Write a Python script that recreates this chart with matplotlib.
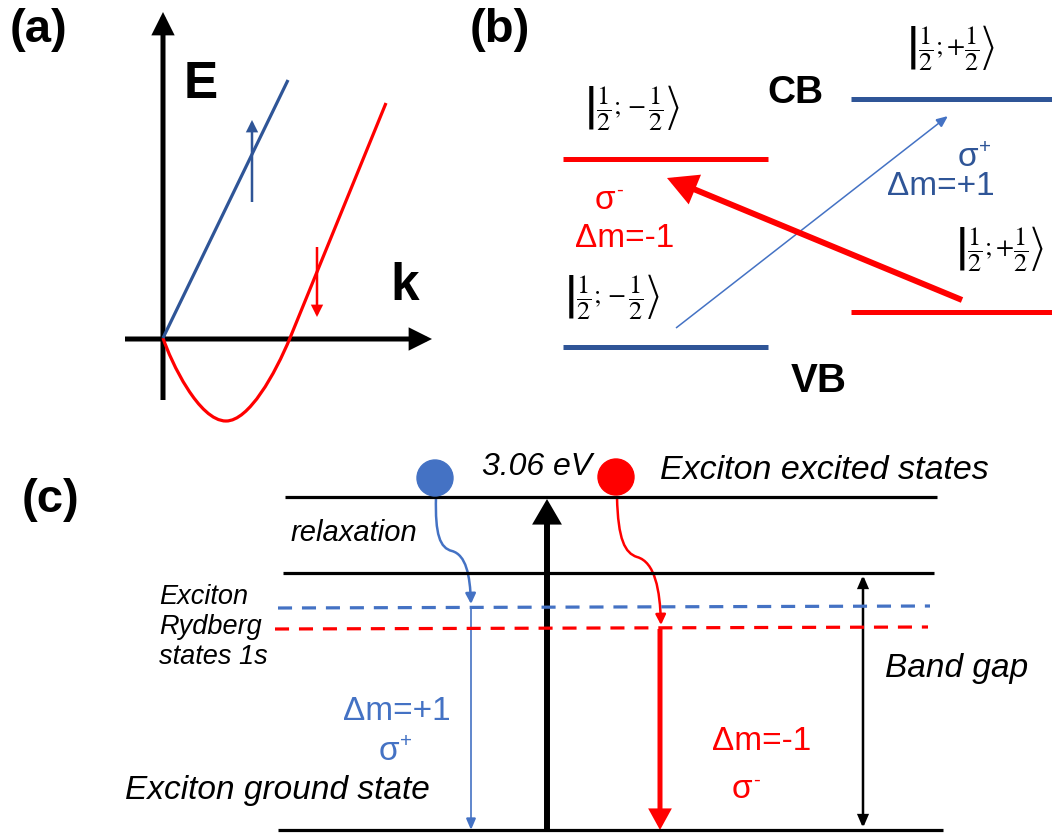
import matplotlib
matplotlib.use("Agg")
import matplotlib.pyplot as plt
from matplotlib.patches import FancyArrowPatch, Circle
from matplotlib.path import Path

plt.rcParams['font.family'] = ['Liberation Sans', 'DejaVu Sans']

# ---------------- data (drawing coordinates, pixels) ----------------
# panel (a): dispersion curves
blue_band_x = [163, 288]
blue_band_y = [338, 80]
# red band: Bezier anchor/control points
red_band_pts = [(163, 338), (171, 362), (199, 421), (226, 421),
                (249, 421), (275, 374), (290, 338), (386, 103)]
spin_up_x, spin_up_y = 252, [202, 120]
spin_dn_x, spin_dn_y = 317, [247, 317]

# panel (b): levels  (x0, x1, y)
cb_levels = [(563, 768, 159, 'red'), (851, 1052, 99, 'blue')]
vb_levels = [(563, 768, 347, 'blue'), (851, 1052, 312, 'red')]
KET_M = r'$\left|\dfrac{1}{2}{;}\,{-}\,\dfrac{1}{2}\right\rangle$'
KET_P = r'$\left|\dfrac{1}{2}{;}{+}\dfrac{1}{2}\right\rangle$'
kets = [(KET_M, 632, 107), (KET_P, 951, 47), (KET_P, 1000, 248), (KET_M, 612, 296)]

# panel (c): levels
solid_levels = [(285, 937, 497), (283, 934, 573), (278, 943, 830)]
blue_dash = ([278, 930], [608, 606])
red_dash = ([275, 928], [629, 627])
labels_c = ["3.06 eV", "Exciton excited states", "relaxation",
            "Exciton\nRydberg\nstates 1s", "Exciton ground state", "Band gap"]

BLUE_D = '#2F5597'
BLUE_L = '#4472C4'
RED = '#FF0000'

fig = plt.figure(figsize=(10.52, 8.34), dpi=100)
ax = fig.add_axes([0, 0, 1, 1])
ax.set_xlim(0, 1052)
ax.set_ylim(834, 0)
ax.axis('off')


def arrow(x0, y0, x1, y1, color, lw, hl, hw, style='-|>'):
    a = FancyArrowPatch((x0, y0), (x1, y1),
                        arrowstyle=f'{style},head_length={hl},head_width={hw}',
                        mutation_scale=1, color=color, lw=lw,
                        shrinkA=0, shrinkB=0, joinstyle='miter',
                        capstyle='butt')
    ax.add_patch(a)


def sigma(x, y, sign, color, fs=24):
    ax.text(x, y, 'σ', fontsize=fs, color=color, ha='right', va='center')
    ax.annotate(sign, xy=(x, y), xytext=(0.5, 7), textcoords='offset points',
                fontsize=fs * 0.62, color=color, ha='left', va='center')


# ---------------- panel (a) ----------------
arrow(163, 400, 163, 12, 'black', 3.6, 11, 5.5)
arrow(125, 339, 432, 339, 'black', 3.6, 11, 5.5)
ax.plot(blue_band_x, blue_band_y, color=BLUE_D, lw=2.3, solid_capstyle='butt')
red_codes = [Path.MOVETO] + [Path.CURVE4] * 6 + [Path.LINETO]
ax.add_patch(FancyArrowPatch(path=Path(red_band_pts, red_codes), arrowstyle='-',
                             color=RED, lw=2.3, capstyle='butt'))
arrow(spin_up_x, spin_up_y[0], spin_up_x, spin_up_y[1], BLUE_D, 1.8, 6, 3)
arrow(spin_dn_x, spin_dn_y[0], spin_dn_x, spin_dn_y[1], RED, 1.8, 6, 3)
ax.text(38, 30, '(a)', fontsize=34, fontweight='bold', ha='center', va='center')
ax.text(201, 84, 'E', fontsize=37, fontweight='bold', ha='center', va='center')
ax.text(405, 287, 'k', fontsize=37, fontweight='bold', ha='center', va='center')

# ---------------- panel (b) ----------------
ax.text(500, 30, '(b)', fontsize=34, fontweight='bold', ha='center', va='center')
for x0, x1, y, c in cb_levels + vb_levels:
    ax.plot([x0, x1], [y, y], color=RED if c == 'red' else BLUE_D, lw=3.6,
            solid_capstyle='butt')
for s, x, y in kets:
    ax.text(x, y, s, fontsize=19, ha='center', va='center', math_fontfamily='stix')
ax.text(795, 93, 'CB', fontsize=28, fontweight='bold', ha='center', va='center')
ax.text(819, 381, 'VB', fontsize=29, fontweight='bold', ha='center', va='center')
arrow(676, 328, 948, 116, BLUE_L, 1.1, 7, 3)
arrow(962, 300, 667, 178, RED, 4.3, 15, 8)
sigma(978, 157, '+', BLUE_D)
ax.text(941, 186, 'Δm=+1', fontsize=24, color=BLUE_D, ha='center', va='center')
sigma(615, 200, '-', RED)
ax.text(625, 238, 'Δm=-1', fontsize=24, color=RED, ha='center', va='center')

# ---------------- panel (c) ----------------
ax.text(51, 500, '(c)', fontsize=34, fontweight='bold', ha='center', va='center')
for x0, x1, y in solid_levels:
    ax.plot([x0, x1], [y, y], color='black', lw=2.3, solid_capstyle='butt')
ax.plot(blue_dash[0], blue_dash[1], color=BLUE_L, lw=2.3, dashes=[4.4, 3.1])
ax.plot(red_dash[0], red_dash[1], color=RED, lw=2.3, dashes=[4.4, 3.1])

# excitation arrow
arrow(547, 830, 547, 499, 'black', 4.3, 12, 7)
# band gap double arrow
arrow(863, 575, 863, 828, 'black', 1.8, 7, 3, style='<|-|>')
# emission arrows
arrow(471, 608, 471, 830, BLUE_L, 1.2, 7, 3)
arrow(660, 629, 660, 830, RED, 3.6, 10, 5.5)

# relaxation wiggles
blue_wiggle = [(436, 497), (435, 535), (440, 548), (452, 551),
               (466, 555), (470, 575), (471, 604)]
red_wiggle = [(617, 497), (618, 540), (625, 553), (637, 557),
              (655, 562), (660, 590), (661, 625)]
codes = [Path.MOVETO] + [Path.CURVE4] * 6
for pts, c in [(blue_wiggle, BLUE_L), (red_wiggle, RED)]:
    ax.add_patch(FancyArrowPatch(path=Path(pts, codes),
                                 arrowstyle='-|>,head_length=6,head_width=3',
                                 mutation_scale=1, color=c, lw=1.8))

ax.add_patch(Circle((435, 478), 18, color=BLUE_L, zorder=5))
ax.add_patch(Circle((616, 477), 18, color=RED, zorder=5))

ax.text(537, 467, labels_c[0], fontsize=23, style='italic', ha='center', va='center')
ax.text(660, 470, labels_c[1], fontsize=24.5, style='italic', ha='left', va='center')
ax.text(291, 533, labels_c[2], fontsize=21, style='italic', ha='left', va='center')
ax.text(159, 627, labels_c[3], fontsize=19.5, style='italic', ha='left', va='center',
        linespacing=1.2)
ax.text(125, 790, labels_c[4], fontsize=24, style='italic', ha='left', va='center')
ax.text(885, 668, labels_c[5], fontsize=24, style='italic', ha='left', va='center')
ax.text(397, 711, 'Δm=+1', fontsize=24, color=BLUE_L, ha='center', va='center')
sigma(399, 751, '+', BLUE_L)
ax.text(762, 742, 'Δm=-1', fontsize=24, color=RED, ha='center', va='center')
sigma(752, 790, '-', RED)

fig.savefig('out.png', dpi=100)
